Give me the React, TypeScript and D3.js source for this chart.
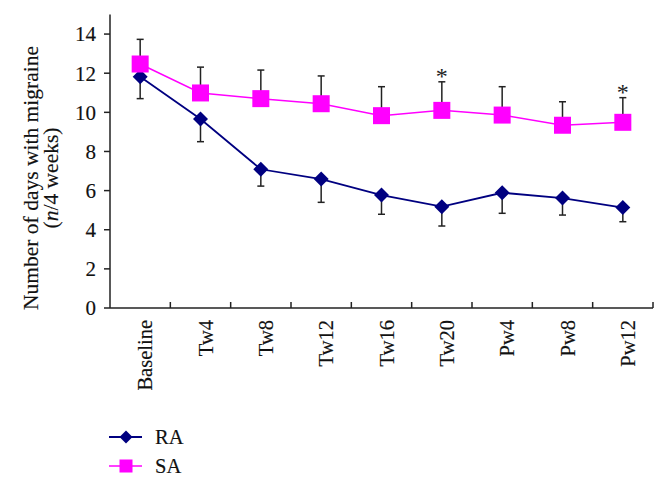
import React from "react";
import * as d3 from "d3";

const categories = ["Baseline", "Tw4", "Tw8", "Tw12", "Tw16", "Tw20", "Pw4", "Pw8", "Pw12"];
const raMean = [11.82, 9.66, 7.09, 6.59, 5.77, 5.18, 5.89, 5.62, 5.13];
const raLower = [10.7, 8.5, 6.23, 5.4, 4.79, 4.19, 4.84, 4.75, 4.41];
const saMean = [12.47, 10.99, 10.7, 10.44, 9.83, 10.1, 9.86, 9.34, 9.49];
const saUpper = [13.73, 12.31, 12.16, 11.86, 11.31, 11.56, 11.31, 10.54, 10.75];
const significant = ["Tw20", "Pw12"];
const yTicks = [0, 2, 4, 6, 8, 10, 12, 14];

const W = 668;
const H = 485;
const FONT = "'Liberation Serif', 'DejaVu Serif', serif";
const TXT = { fill: "#111", stroke: "#111", strokeWidth: 0.15 };

export default function App() {
  const x = d3.scaleBand<string>().domain(categories).range([110, 653]);
  const y = d3.scaleLinear().domain([0, 15]).range([308, 14.5]);
  const cx = (c: string) => (x(c) as number) + x.bandwidth() / 2;

  const line = d3
    .line<number>()
    .x((_, i) => cx(categories[i]))
    .y((d) => y(d));

  const boundaries = categories.map((c) => (x(c) as number) + x.bandwidth());
  const diamond = (s: number) => `M0,${-s}L${s},0L0,${s}L${-s},0Z`;
  const cap = 3.5;

  return (
    <svg width={W} height={H} style={{ position: "absolute", left: 0, top: 0, background: "#fff" }} fontFamily={FONT}>
      {/* y axis */}
      <line x1={110} x2={110} y1={y(15)} y2={y(0)} stroke="#222" strokeWidth={1.5} />
      {yTicks.map((t) => (
        <g key={t}>
          <line x1={104} x2={110} y1={y(t)} y2={y(t)} stroke="#222" strokeWidth={1.5} />
          <text x={96} y={y(t)} dy="0.35em" textAnchor="end" fontSize={21} {...TXT}>
            {t}
          </text>
        </g>
      ))}
      {/* x axis */}
      <line x1={110} x2={653} y1={y(0)} y2={y(0)} stroke="#222" strokeWidth={1.5} />
      {boundaries.map((b, i) => (
        <line key={i} x1={b} x2={b} y1={y(0) - 6} y2={y(0)} stroke="#222" strokeWidth={1.5} />
      ))}
      {categories.map((c) => (
        <text
          key={c}
          transform={`translate(${cx(c) + 12},320) rotate(-90)`}
          textAnchor="end"
          fontSize={20.5}
          {...TXT}
        >
          {c}
        </text>
      ))}
      {/* y label */}
      <g transform="translate(0,178)">
        <text transform="translate(38,0) rotate(-90)" textAnchor="middle" fontSize={21.5} {...TXT}>
          Number of days with migraine
        </text>
        <text transform="translate(58,0) rotate(-90)" textAnchor="middle" fontSize={21.5} {...TXT}>
          (<tspan fontStyle="italic">n</tspan>/4 weeks)
        </text>
      </g>

      {/* error bars */}
      {categories.map((c, i) => (
        <g key={"e" + c} stroke="#222" strokeWidth={1.5}>
          <line x1={cx(c)} x2={cx(c)} y1={y(raMean[i])} y2={y(raLower[i])} />
          <line x1={cx(c) - cap} x2={cx(c) + cap} y1={y(raLower[i])} y2={y(raLower[i])} />
          <line x1={cx(c)} x2={cx(c)} y1={y(saMean[i])} y2={y(saUpper[i])} />
          <line x1={cx(c) - cap} x2={cx(c) + cap} y1={y(saUpper[i])} y2={y(saUpper[i])} />
        </g>
      ))}

      {/* RA series */}
      <path d={line(raMean) || ""} fill="none" stroke="#000080" strokeWidth={1.8} />
      {categories.map((c, i) => (
        <path key={"ra" + c} d={diamond(7.5)} transform={`translate(${cx(c)},${y(raMean[i])})`} fill="#000080" />
      ))}

      {/* SA series */}
      <path d={line(saMean) || ""} fill="none" stroke="#ff00ff" strokeWidth={1.5} />
      {categories.map((c, i) => (
        <rect key={"sa" + c} x={cx(c) - 8.5} y={y(saMean[i]) - 8.5} width={17} height={17} fill="#ff00ff" />
      ))}

      {/* significance */}
      {categories.map((c, i) =>
        significant.includes(c) ? (
          <text key={"s" + c} x={cx(c)} y={y(saUpper[i]) + 2} textAnchor="middle" fontSize={24} fill="#222">
            *
          </text>
        ) : null
      )}

      {/* legend */}
      <line x1={109} x2={142} y1={437} y2={437} stroke="#000080" strokeWidth={1.8} />
      <path d={diamond(6.5)} transform="translate(126,437)" fill="#000080" />
      <text x={155} y={443.5} fontSize={20.5} {...TXT}>RA</text>
      <line x1={109} x2={142} y1={466} y2={466} stroke="#ff00ff" strokeWidth={1.5} />
      <rect x={119.5} y={459.5} width={13} height={13} fill="#ff00ff" />
      <text x={155} y={472.5} fontSize={20.5} {...TXT}>SA</text>
    </svg>
  );
}
